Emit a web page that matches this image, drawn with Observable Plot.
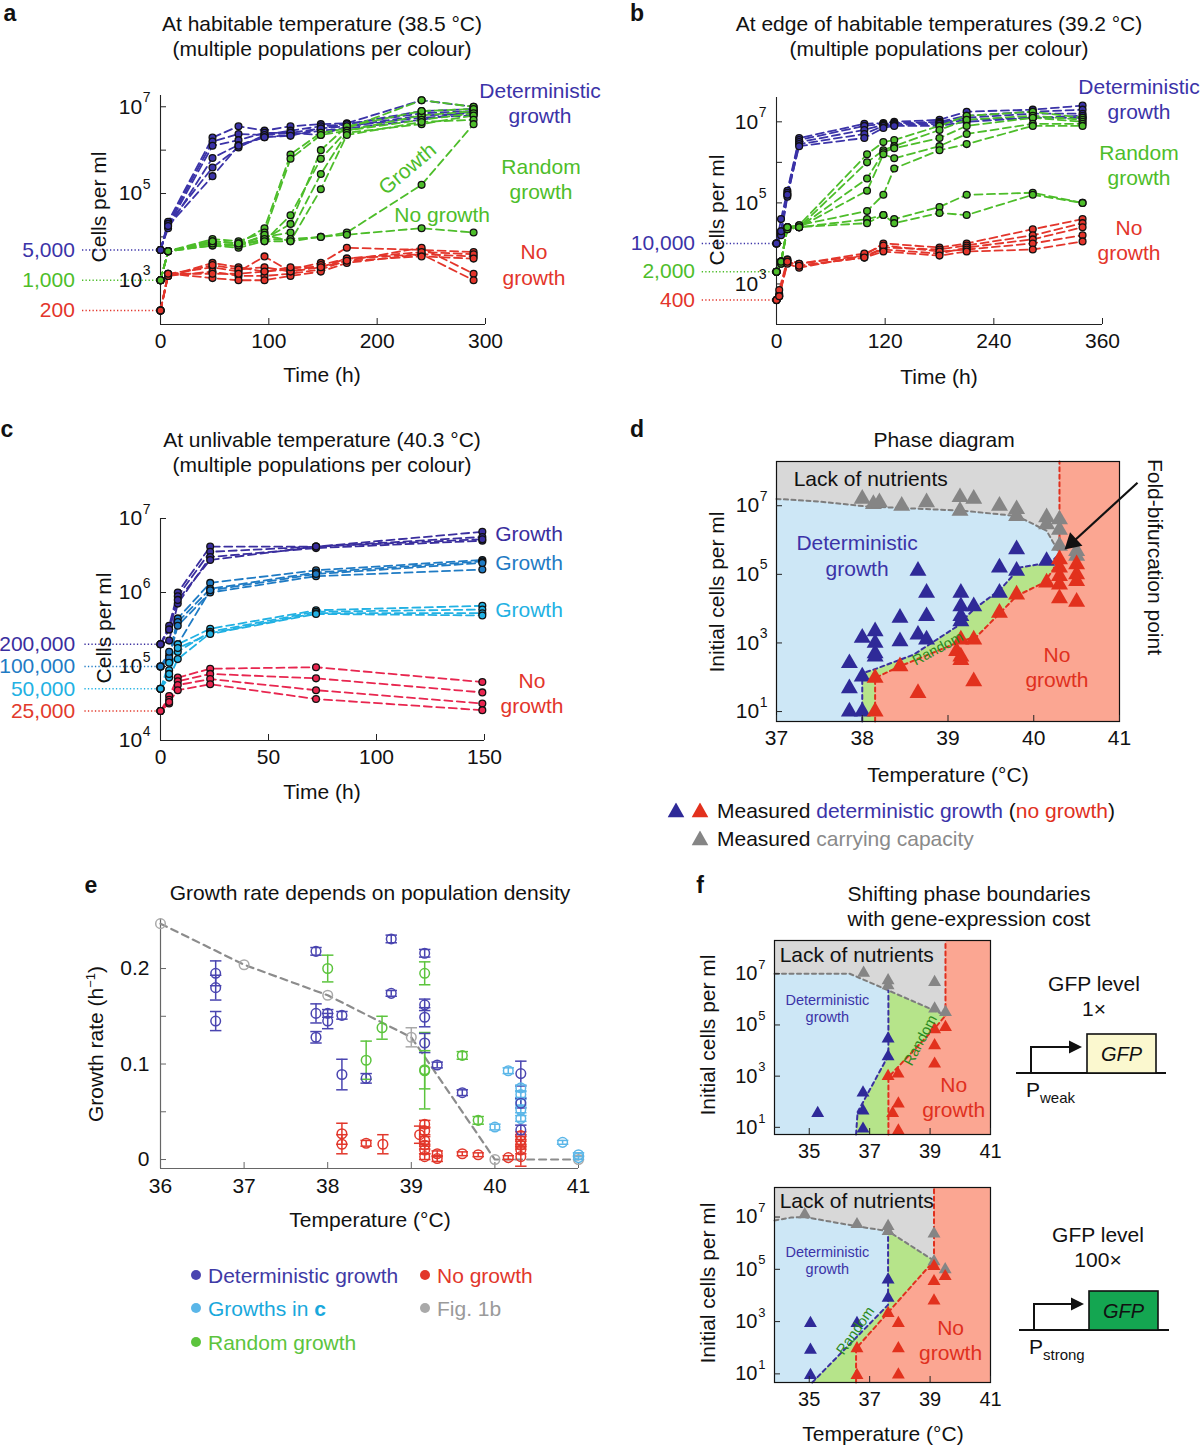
<!DOCTYPE html>
<html>
<head>
<meta charset="utf-8">
<script src="https://cdn.jsdelivr.net/npm/d3@7"></script>
<script src="https://cdn.jsdelivr.net/npm/@observablehq/plot@0.6"></script>
<style>
  body { margin: 0; background: #fff; }
  #fig { position: relative; width: 1200px; height: 1445px; overflow: hidden; background: #fff;
         font-family: "Liberation Sans", Arial, Helvetica, sans-serif; color: #111; }
  .t { position: absolute; white-space: nowrap; line-height: 1; }
</style>
</head>
<body>
<div id="fig"></div>
<script>
// ===================== Data =====================

// (a) 38.5 °C time courses; log10(cells per ml) after the starting density
const aTimes = [0, 7, 48, 72, 96, 120, 148, 172, 241, 289];
const aLevels = [
  {label: "5,000", cells: 5000, color: "#3b33a8"},
  {label: "1,000", cells: 1000, color: "#4dbd2a"},
  {label: "200", cells: 200, color: "#e3352b"}
];
const aDeterministicLog = [
  [4.35, 6.29, 6.55, 6.45, 6.55, 6.6, 6.62, 7.15, 7.0],
  [4.3, 6.2, 6.37, 6.35, 6.45, 6.55, 6.6, 6.9, 6.95],
  [4.25, 6.1, 6.23, 6.4, 6.4, 6.5, 6.55, 6.8, 6.85],
  [4.2, 5.82, 6.12, 6.3, 6.35, 6.45, 6.5, 6.7, 6.9],
  [4.3, 5.6, 6.06, 6.35, 6.4, 6.35, 6.55, 6.75, 6.8],
  [4.25, 5.4, 6.1, 6.3, 6.33, 6.5, 6.6, 6.85, 6.9]
];
const aRandomLog = [
  [3.67, 3.9, 3.85, 4.2, 5.9, 6.4, 6.5, 7.15, 7.0],
  [3.67, 3.95, 3.9, 4.1, 5.8, 6.35, 6.45, 6.8, 6.9],
  [3.67, 3.85, 3.8, 3.95, 4.3, 6.0, 6.55, 6.9, 6.95],
  [3.67, 3.8, 3.75, 3.9, 4.5, 5.8, 6.45, 6.7, 6.85],
  [3.67, 3.9, 3.85, 4.0, 4.1, 5.45, 6.4, 6.6, 6.8],
  [3.67, 3.8, 3.8, 4.05, 3.9, 5.1, 6.35, 6.65, 6.7],
  [3.67, 3.85, 3.8, 3.95, 3.95, 4.0, 4.1, 5.2, 6.6],
  [3.67, 3.9, 3.85, 3.9, 3.9, 4.0, 4.05, 4.2, 4.1]
];
const aNoGrowthLog = [
  [3.1, 3.4, 3.3, 3.2, 3.25, 3.4, 3.75, 3.7, 3.65],
  [3.15, 3.3, 3.2, 3.55, 3.2, 3.3, 3.5, 3.6, 3.55],
  [3.1, 3.2, 3.1, 3.1, 3.15, 3.25, 3.45, 3.75, 3.15],
  [3.15, 3.05, 3.0, 3.0, 3.1, 3.2, 3.4, 3.6, 3.0],
  [3.1, 3.35, 3.25, 3.3, 3.2, 3.35, 3.5, 3.65, 3.6],
  [3.15, 3.15, 3.15, 3.2, 3.3, 3.3, 3.45, 3.55, 3.5]
];

// (b) 39.2 °C time courses
const bDeterministicTimes = [0, 5, 12, 25, 97, 118, 130, 180, 210, 283, 338];
const bRandomTimes = [0, 5, 12, 25, 100, 118, 130, 180, 210, 283, 338];
const bNoGrowthTimes = [0, 3, 12, 25, 97, 118, 180, 210, 283, 338];
const bLevels = [
  {label: "10,000", cells: 10000, color: "#3b33a8"},
  {label: "2,000", cells: 2000, color: "#4dbd2a"},
  {label: "400", cells: 400, color: "#e3352b"}
];
const bDeterministicLog = [
  [4.6, 5.3, 6.6, 6.95, 6.97, 7.0, 7.05, 7.25, 7.3, 7.4],
  [4.3, 5.25, 6.55, 6.9, 6.95, 6.97, 7.0, 7.15, 7.25, 7.3],
  [4.25, 5.2, 6.5, 6.8, 6.93, 6.95, 6.98, 7.1, 7.2, 7.2],
  [4.2, 5.15, 6.45, 6.7, 6.9, 6.92, 6.95, 7.05, 7.1, 7.15],
  [4.3, 5.2, 6.4, 6.6, 6.85, 6.9, 6.9, 7.0, 7.1, 7.1]
];
const bRandomLog = [
  [3.55, 4.4, 4.45, 6.2, 6.5, 6.55, 6.9, 7.15, 7.25, 7.1],
  [3.55, 4.4, 4.4, 6.0, 6.3, 6.4, 6.8, 7.05, 7.15, 7.05],
  [3.55, 4.35, 4.4, 5.6, 6.25, 6.35, 6.6, 6.9, 7.1, 7.0],
  [3.5, 4.4, 4.4, 5.3, 6.2, 6.1, 6.4, 6.7, 6.95, 6.95],
  [3.55, 4.4, 4.45, 4.8, 5.2, 5.85, 6.3, 6.45, 6.9, 6.9],
  [3.5, 4.35, 4.4, 4.6, 4.7, 4.6, 4.9, 5.2, 5.25, 5.0],
  [3.55, 4.4, 4.4, 4.5, 4.7, 4.5, 4.75, 4.7, 5.2, 5.0]
];
const bNoGrowthLog = [
  [2.7, 3.6, 3.5, 3.7, 4.0, 3.9, 4.0, 4.35, 4.6],
  [2.75, 3.55, 3.45, 3.65, 3.9, 3.85, 3.95, 4.2, 4.5],
  [2.7, 3.5, 3.4, 3.7, 3.85, 3.75, 3.9, 4.1, 4.4],
  [2.85, 3.6, 3.5, 3.75, 3.95, 3.8, 3.85, 4.0, 4.2],
  [2.7, 3.55, 3.45, 3.65, 3.8, 3.7, 3.8, 3.85, 4.05]
];

// (c) 40.3 °C time courses
const cTimes = [0, 4, 8, 23, 72, 149];
const cLevels = [
  {label: "200,000", cells: 200000, color: "#3a2e9e"},
  {label: "100,000", cells: 100000, color: "#1f7bc4"},
  {label: "50,000", cells: 50000, color: "#22b1e3"},
  {label: "25,000", cells: 25000, color: "#e23a2c"}
];
const c200kLog = [
  [5.55, 6.0, 6.62, 6.62, 6.82],
  [5.5, 5.95, 6.55, 6.62, 6.75],
  [5.35, 5.85, 6.48, 6.6, 6.7],
  [5.5, 5.9, 6.44, 6.62, 6.72]
];
const c100kLog = [
  [5.15, 5.65, 6.13, 6.3, 6.44],
  [5.1, 5.6, 6.05, 6.27, 6.42],
  [5.12, 5.55, 6.0, 6.22, 6.31],
  [5.2, 5.3, 6.03, 6.25, 6.4]
];
const c50kLog = [
  [5.05, 5.3, 5.51, 5.76, 5.82],
  [4.95, 5.2, 5.47, 5.74, 5.77],
  [4.85, 5.1, 5.45, 5.72, 5.72],
  [4.9, 5.25, 5.44, 5.71, 5.69]
];
const c25kLog = [
  [4.6, 4.85, 4.97, 4.99, 4.79],
  [4.55, 4.8, 4.9, 4.84, 4.65],
  [4.5, 4.75, 4.83, 4.68, 4.5],
  [4.52, 4.68, 4.76, 4.56, 4.41]
];

// (d) phase diagram: [temperature °C, log10 initial cells per ml]
const dDeterministic = [[37.85,2.41],[37.85,1.68],[37.85,1.0],[38.0,3.15],[38.0,2.02],[38.0,1.0],[38.15,3.34],[38.15,3.0],[38.15,2.7],[38.15,2.6],[38.44,3.73],[38.44,3.05],[38.65,5.1],[38.65,3.24],[38.75,4.46],[38.75,3.78],[38.75,3.1],[39.15,4.46],[39.15,4.07],[39.15,3.78],[39.15,3.63],[39.3,4.07],[39.6,5.2],[39.6,4.46],[39.8,5.73],[39.8,5.1],[40.15,5.39]];
const dNoGrowth = [[38.15,1.98],[38.15,1.0],[38.44,2.32],[38.65,1.54],[39.15,3.1],[39.1,2.76],[39.15,2.6],[39.15,2.5],[39.3,3.1],[39.3,1.88],[39.6,3.88],[39.8,4.41],[40.15,4.76],[40.3,5.44],[40.3,5.2],[40.3,4.95],[40.3,4.7],[40.3,4.3],[40.5,5.29],[40.5,5.0],[40.5,4.8],[40.5,4.2]];
const dCarrying = [[38.0,7.2],[38.13,7.05],[38.2,7.1],[38.46,7.0],[38.75,7.1],[39.14,7.25],[39.14,6.85],[39.3,7.2],[39.6,7.0],[39.8,6.9],[39.8,6.7],[40.15,6.66],[40.15,6.46],[40.3,6.6],[40.3,6.3],[40.3,5.83],[40.5,5.68],[40.5,5.54]];
const dCarryingBoundary = [[37,7.2],[37.5,7.12],[38.05,6.98],[38.6,6.92],[39.2,6.85],[39.8,6.7],[40.0,6.46],[40.15,6.27],[40.25,5.83],[40.3,5.6]];
const dDeterministicBoundary = [[38.0,0.71],[38.0,2.12],[38.13,2.22],[38.6,2.66],[39.14,3.54],[39.22,3.78],[39.3,3.98],[39.61,4.56],[39.84,5.2],[40.2,5.35],[40.3,5.6]];
const dNoGrowthBoundary = [[38.15,0.71],[38.15,1.98],[38.44,2.32],[39.1,3.0],[39.34,3.2],[39.57,3.78],[39.8,4.37],[40.12,4.76],[40.23,5.15],[40.3,5.6]];

// (e) growth rate: [temperature °C, rate h^-1, error]
const eDeterministic = [[36.66,0.195,0.013],[36.66,0.18,0.013],[36.66,0.145,0.01],[37.86,0.218,0.004],[37.86,0.153,0.01],[37.86,0.128,0.006],[38.0,0.153,0.004],[38.0,0.145,0.008],[38.17,0.151,0.004],[38.17,0.089,0.016],[38.46,0.085,0.005],[38.76,0.231,0.004],[38.76,0.174,0.003],[39.16,0.216,0.004],[39.16,0.162,0.006],[39.16,0.149,0.01],[39.16,0.122,0.01],[39.31,0.099,0.003],[39.61,0.07,0.003],[40.31,0.09,0.013],[40.31,0.059,0.005],[40.31,0.031,0.005]];
const eRandom = [[38.0,0.2,0.014],[38.46,0.104,0.02],[38.65,0.138,0.012],[39.16,0.195,0.012],[39.16,0.093,0.04],[39.16,0.094,0.02],[39.61,0.109,0.004],[39.8,0.041,0.004]];
const eNoGrowth = [[38.17,0.027,0.011],[38.17,0.016,0.01],[38.46,0.017,0.003],[38.66,0.016,0.01],[39.1,0.026,0.009],[39.16,0.037,0.004],[39.16,0.03,0.004],[39.16,0.02,0.004],[39.16,0.015,0.004],[39.16,0.01,0.004],[39.16,0.003,0.003],[39.31,0.006,0.003],[39.31,0.001,0.003],[39.61,0.006,0.002],[39.8,0.005,0.002],[40.16,0.002,0.002],[40.31,0.025,0.004],[40.31,0.02,0.004],[40.31,0.015,0.004],[40.31,0.01,0.004],[40.31,0.003,0.01]];
const eGrowthsC = [[40.16,0.093,0.003],[40.0,0.034,0.003],[40.31,0.075,0.003],[40.31,0.068,0.003],[40.31,0.06,0.003],[40.31,0.052,0.003],[40.31,0.043,0.003],[40.81,0.018,0.002],[41.0,0.005,0.002],[41.0,0.002,0.002]];
const eFig1b = [[36,0.247,0],[37,0.204,0],[38,0.172,0],[39,0.128,0.01],[40,0,0],[41,0,0]];

// (f) phase diagrams with GFP expression cost
const fWeakDeterministic = [[35.28,1.55],[36.78,2.35],[36.78,1.65],[36.78,0.94],[37.61,4.46],[37.61,3.77]];
const fWeakNoGrowth = [[37.61,3.0],[37.94,3.09],[37.76,1.55],[37.95,1.92],[37.95,0.87],[39.15,4.82],[39.15,4.2],[39.15,3.48],[39.51,4.91]];
const fWeakCarrying = [[36.8,7.03],[37.61,6.74],[37.61,6.54],[39.15,6.67],[39.15,5.63],[39.51,5.5]];
const fWeakCarryingBoundary = [[33.85,7.0],[36.34,7.0],[37.62,6.35],[39.13,5.57],[39.51,5.37]];
const fWeakDeterministicBoundary = [[36.55,0.72],[36.6,1.59],[37.62,3.81],[37.62,6.35]];
const fWeakNoGrowthBoundary = [[37.62,0.72],[37.62,2.96],[39.18,4.91],[39.51,5.37]];

const fStrongDeterministic = [[35.04,2.94],[35.04,1.91],[35.04,0.95],[36.58,2.94],[37.61,4.6],[37.61,3.9]];
const fStrongNoGrowth = [[37.61,3.32],[36.58,1.97],[36.58,0.95],[37.95,2.94],[37.95,1.97],[37.95,0.97],[39.13,5.12],[39.13,4.54],[39.13,3.8],[39.5,4.73]];
const fStrongCarrying = [[34.85,7.1],[36.58,6.72],[37.61,6.65],[37.61,6.46],[39.13,6.36],[39.13,5.3],[39.5,4.99]];
const fStrongCarryingBoundary = [[33.85,6.87],[34.4,6.98],[34.85,7.0],[36.55,6.65],[37.61,6.46],[39.13,5.33]];
const fStrongDeterministicBoundary = [[35.1,0.67],[37.61,3.64],[37.61,6.46]];
const fStrongNoGrowthBoundary = [[36.55,0.67],[36.55,1.97],[39.13,5.33]];

// ===================== Styling =====================
const FONT = '"Liberation Sans", Arial, Helvetica, sans-serif';
const FS = 21;   // main text size
const BLUE = "#3b33a8", GREEN = "#4dbd2a", RED = "#e3352b";
const TRI_BLUE = "#2f2a98", TRI_RED = "#e2311d", TRI_GRAY = "#858585";
const REGION = {deterministic: "#cde7f6", carrying: "#d8d8d8", random: "#b6e48a", none: "#fba692"};
const fig = document.getElementById("fig");

function label(html, x, y, o = {}) {
  const {size = FS, color = "#111", anchor = "middle", rotate = 0, weight = "normal", italic = false} = o;
  const el = document.createElement("div");
  el.className = "t";
  el.innerHTML = html;
  const tx = anchor === "middle" ? "-50%" : anchor === "end" ? "-100%" : "0%";
  el.style.left = x + "px";
  el.style.top = y + "px";
  el.style.fontSize = size + "px";
  el.style.color = color;
  el.style.fontWeight = weight;
  if (italic) el.style.fontStyle = "italic";
  el.style.transform = `translate(${tx}, -50%) rotate(${rotate}deg)`;
  fig.appendChild(el);
}

function panel(area, frame, options) {
  const svg = Plot.plot({
    width: area.right - area.left,
    height: area.bottom - area.top,
    marginLeft: frame.left - area.left,
    marginRight: area.right - frame.right,
    marginTop: frame.top - area.top,
    marginBottom: area.bottom - frame.bottom,
    style: {background: "transparent", overflow: "visible", fontFamily: FONT, fontSize: FS + "px", color: "#111", maxWidth: "none"},
    color: {type: "identity"},
    ...options
  });
  svg.style.position = "absolute";
  svg.style.left = area.left + "px";
  svg.style.top = area.top + "px";
  fig.appendChild(svg);
}

// "10" with a raised exponent, placed left of the frame
function powerLabels(exps, {dx = -10, size = FS} = {}) {
  return [
    Plot.text(exps, {y: e => 10 ** e, frameAnchor: "left", text: () => "10", textAnchor: "end", dx: dx - size * 0.4, fontSize: size}),
    Plot.text(exps, {y: e => 10 ** e, frameAnchor: "left", text: e => String(e), textAnchor: "end", dx, dy: -size * 0.45, fontSize: Math.round(size * 0.66)})
  ];
}

// inward ticks plus outside labels
function axesMarks({xTicks, xLabels = xTicks, yTicks, tickFont = FS, xPad = 9, tickColor = "#222"}) {
  return [
    Plot.axisX({ticks: xTicks, tickSize: 6, dy: -6, tickFormat: () => "", label: null, stroke: tickColor}),
    Plot.axisX({ticks: xLabels, tickSize: 0, tickPadding: xPad, label: null, fontSize: tickFont, tickFormat: d => String(d)}),
    Plot.axisY({ticks: yTicks, tickSize: 6, dx: 6, tickFormat: () => "", label: null, stroke: tickColor})
  ];
}

function trajectories(group, times, start, logs, color) {
  const rows = [];
  logs.forEach((vals, i) => {
    const id = `${group}-${i}`;
    rows.push({id, t: times[0], cells: start, color});
    vals.forEach((v, j) => rows.push({id, t: times[j + 1], cells: 10 ** v, color}));
  });
  return rows;
}

function timeCourse({area, frame, xDomain, yExp, rows, levels, levelX, xTicks, yTickExps, yLabelExps, notes = []}) {
  const yDomain = [10 ** yExp[0], 10 ** yExp[1]];
  panel(area, frame, {
    x: {domain: xDomain},
    y: {type: "log", domain: yDomain},
    marks: [
      Plot.ruleY(levels, {y: "cells", x1: levelX[0], x2: xDomain[0], stroke: "color", strokeWidth: 1.5, strokeDasharray: "1.3,2.2"}),
      Plot.text(levels, {y: "cells", x: levelX[1], text: "label", fill: "color", textAnchor: "end", fontSize: FS}),
      Plot.ruleX([xDomain[0]], {stroke: "#222", strokeWidth: 1.1}),
      Plot.ruleY([yDomain[0]], {stroke: "#222", strokeWidth: 1.1}),
      ...axesMarks({xTicks, yTicks: yTickExps.map(e => 10 ** e)}),
      ...powerLabels(yLabelExps),
      Plot.line(rows, {x: "t", y: "cells", z: "id", stroke: "color", strokeWidth: 1.8, strokeDasharray: "8,4.5"}),
      Plot.dot(rows, {x: "t", y: "cells", fill: "color", stroke: "#111", strokeWidth: 1.3, r: 3.4}),
      ...notes
    ]
  });
}

// ===================== (a) =====================
label("a", 10, 13, {size: 23, weight: "bold"});
label("At habitable temperature (38.5 °C)", 322, 23);
label("(multiple populations per colour)", 322, 48);
timeCourse({
  area: {left: 0, top: 60, right: 600, bottom: 370},
  frame: {left: 160, right: 485, top: 95, bottom: 324},
  xDomain: [0, 300], yExp: [1.98, 7.26],
  rows: [
    ...trajectories("det", aTimes, aLevels[0].cells, aDeterministicLog, BLUE),
    ...trajectories("rnd", aTimes, aLevels[1].cells, aRandomLog, GREEN),
    ...trajectories("no", aTimes, aLevels[2].cells, aNoGrowthLog, RED)
  ],
  levels: aLevels, levelX: [-72, -79],
  xTicks: [0, 100, 200, 300], yTickExps: [3, 4, 5, 6, 7], yLabelExps: [3, 5, 7],
  notes: [
    Plot.text([{t: 228, cells: 3.7e5, text: "Growth"}], {x: "t", y: "cells", text: "text", rotate: -40, fill: GREEN, fontSize: FS}),
    Plot.text([{t: 260, cells: 3.1e4, text: "No growth"}], {x: "t", y: "cells", text: "text", fill: GREEN, fontSize: FS})
  ]
});
label("Time (h)", 322, 374);
label("Cells per ml", 98, 207, {rotate: -90});
label("Deterministic", 540, 90, {color: BLUE});
label("growth", 540, 115, {color: BLUE});
label("Random", 541, 166, {color: GREEN});
label("growth", 541, 191, {color: GREEN});
label("No", 534, 251, {color: RED});
label("growth", 534, 277, {color: RED});

// ===================== (b) =====================
label("b", 637, 13, {size: 23, weight: "bold"});
label("At edge of habitable temperatures (39.2 °C)", 939, 23);
label("(multiple populations per colour)", 939, 48);
timeCourse({
  area: {left: 620, top: 60, right: 1200, bottom: 370},
  frame: {left: 776, right: 1102, top: 97, bottom: 324},
  xDomain: [0, 360], yExp: [2.0, 7.6],
  rows: [
    ...trajectories("det", bDeterministicTimes, bLevels[0].cells, bDeterministicLog, BLUE),
    ...trajectories("rnd", bRandomTimes, bLevels[1].cells, bRandomLog, GREEN),
    ...trajectories("no", bNoGrowthTimes, bLevels[2].cells, bNoGrowthLog, RED)
  ],
  levels: bLevels, levelX: [-82, -90],
  xTicks: [0, 120, 240, 360], yTickExps: [3, 4, 5, 6, 7], yLabelExps: [3, 5, 7]
});
label("Time (h)", 939, 376);
label("Cells per ml", 716, 210, {rotate: -90});
label("Deterministic", 1139, 86, {color: BLUE});
label("growth", 1139, 111, {color: BLUE});
label("Random", 1139, 152, {color: GREEN});
label("growth", 1139, 177, {color: GREEN});
label("No", 1129, 227, {color: RED});
label("growth", 1129, 252, {color: RED});

// ===================== (c) =====================
label("c", 7, 429, {size: 23, weight: "bold"});
label("At unlivable temperature (40.3 °C)", 322, 439);
label("(multiple populations per colour)", 322, 464);
timeCourse({
  area: {left: 0, top: 490, right: 600, bottom: 785},
  frame: {left: 160, right: 484, top: 518, bottom: 740},
  xDomain: [0, 150], yExp: [4, 7],
  rows: [
    ...trajectories("p", cTimes, cLevels[0].cells, c200kLog, "#3a2e9e"),
    ...trajectories("m", cTimes, cLevels[1].cells, c100kLog, "#1f7bc4"),
    ...trajectories("l", cTimes, cLevels[2].cells, c50kLog, "#22b1e3"),
    ...trajectories("r", cTimes, cLevels[3].cells, c25kLog, "#e8264f")
  ],
  levels: cLevels, levelX: [-35, -39.5],
  xTicks: [0, 50, 100, 150], yTickExps: [4, 5, 6, 7], yLabelExps: [4, 5, 6, 7]
});
label("Time (h)", 322, 791);
label("Cells per ml", 103, 628, {rotate: -90});
label("Growth", 529, 533, {color: "#3a2e9e"});
label("Growth", 529, 562, {color: "#1f7bc4"});
label("Growth", 529, 609, {color: "#22b1e3"});
label("No", 532, 680, {color: RED});
label("growth", 532, 705, {color: RED});

// ===================== phase diagrams (d, f) =====================
function phaseDiagram({area, frame, xDomain, yExp, carryingBoundary, deterministicBoundary, noGrowthBoundary,
                       deterministic, noGrowth, carrying, xTicks, yLabelExps, tickFont, triR, notes = []}) {
  const [yLo, yHi] = yExp;
  const fold = carryingBoundary[carryingBoundary.length - 1];
  const detTop = deterministicBoundary[deterministicBoundary.length - 1];
  const grayPoly = [[xDomain[0], yHi], [fold[0], yHi], ...carryingBoundary.slice().reverse()];
  const redPoly = [[fold[0], yHi], [xDomain[1], yHi], [xDomain[1], yLo], ...noGrowthBoundary];
  const greenPoly = [...deterministicBoundary, ...carryingBoundary.filter(p => p[0] > detTop[0]), ...noGrowthBoundary.slice().reverse()];
  const P = {x: d => d[0], y: d => 10 ** d[1]};
  const dash = "4,3.5";
  panel(area, frame, {
    x: {domain: xDomain},
    y: {type: "log", domain: [10 ** yLo, 10 ** yHi]},
    marks: [
      Plot.frame({fill: REGION.deterministic, stroke: "none"}),
      Plot.line(grayPoly, {...P, fill: REGION.carrying, stroke: "none"}),
      Plot.line(greenPoly, {...P, fill: REGION.random, stroke: "none"}),
      Plot.line(redPoly, {...P, fill: REGION.none, stroke: "none"}),
      Plot.line(carryingBoundary, {...P, stroke: "#7d7d7d", strokeWidth: 2, strokeDasharray: dash}),
      Plot.line(deterministicBoundary, {...P, stroke: "#3a30a0", strokeWidth: 2, strokeDasharray: dash}),
      Plot.line(noGrowthBoundary, {...P, stroke: "#e0301e", strokeWidth: 2, strokeDasharray: dash}),
      Plot.line([fold, [fold[0], yHi]], {...P, stroke: "#e0301e", strokeWidth: 2, strokeDasharray: dash}),
      Plot.dot(carrying, {...P, symbol: "triangle", r: triR, fill: TRI_GRAY}),
      Plot.dot(deterministic, {...P, symbol: "triangle", r: triR, fill: TRI_BLUE}),
      Plot.dot(noGrowth, {...P, symbol: "triangle", r: triR, fill: TRI_RED}),
      ...notes,
      Plot.frame({stroke: "#111", strokeWidth: 1.2}),
      ...axesMarks({xTicks, yTicks: yLabelExps.map(e => 10 ** e), tickFont, xPad: 9}),
      ...powerLabels(yLabelExps, {dx: -9, size: tickFont})
    ]
  });
}
function note(T, cells, text, color, size, extra = {}) {
  return Plot.text([{T, cells, text}], {x: "T", y: "cells", text: "text", fill: color, fontSize: size, ...extra});
}

// ===================== (d) =====================
label("d", 637, 429, {size: 23, weight: "bold"});
label("Phase diagram", 944, 439);
// pointer to the fold-bifurcation point: shaft plus a filled head
const foldPointer = {T1: 41.21, cells1: 10 ** 7.67, T2: 40.45, cells2: 10 ** 5.93, heading: 227.5};
phaseDiagram({
  area: {left: 620, top: 450, right: 1200, bottom: 765},
  frame: {left: 776, right: 1119, top: 461, bottom: 721},
  xDomain: [37, 41], yExp: [0.71, 8.29],
  carryingBoundary: dCarryingBoundary, deterministicBoundary: dDeterministicBoundary, noGrowthBoundary: dNoGrowthBoundary,
  deterministic: dDeterministic, noGrowth: dNoGrowth, carrying: dCarrying,
  xTicks: [37, 38, 39, 40, 41], yLabelExps: [1, 3, 5, 7], tickFont: FS, triR: 6.3,
  notes: [
    note(37.2, 5.75e7, "Lack of nutrients", "#111", FS, {textAnchor: "start"}),
    note(37.94, 7.8e5, "Deterministic", BLUE, FS),
    note(37.94, 1.45e5, "growth", BLUE, FS),
    note(40.27, 430, "No", "#e0301e", FS),
    note(40.27, 79, "growth", "#e0301e", FS),
    note(38.88, 680, "Random", "#2b8a1c", 14.5, {rotate: -28}),
    Plot.link([foldPointer], {x1: "T1", y1: "cells1", x2: "T2", y2: "cells2", stroke: "#111", strokeWidth: 2.2}),
    Plot.dot([foldPointer], {x: "T2", y: "cells2", symbol: "triangle", r: 6.8, rotate: d => d.heading, fill: "#111"})
  ]
});
label("Temperature (°C)", 948, 774);
label("Initial cells per ml", 716, 592, {rotate: -90});
label("Fold-bifurcation point", 1155, 557, {rotate: 90});

function triSvg(color, w = 17) {
  const h = Math.round(w * 0.87);
  return `<svg width="${w}" height="${h}" style="display:block"><path d="M${w / 2},0 L${w},${h} L0,${h}Z" fill="${color}"/></svg>`;
}
label(triSvg(TRI_BLUE), 676, 810);
label(triSvg(TRI_RED), 700, 810);
label(`Measured <span style="color:${BLUE}">deterministic growth</span> (<span style="color:#e0301e">no growth</span>)`, 717, 810, {anchor: "start"});
label(triSvg(TRI_GRAY), 700, 838);
label(`Measured <span style="color:#8a8a8a">carrying capacity</span>`, 717, 838, {anchor: "start"});

// ===================== (e) =====================
label("e", 91, 885, {size: 23, weight: "bold"});
label("Growth rate depends on population density", 370, 892);
const eGroups = [
  {name: "Fig. 1b", color: "#a9a9a9", data: eFig1b},
  {name: "No growth", color: "#e2372b", data: eNoGrowth},
  {name: "Random growth", color: "#5cc43d", data: eRandom},
  {name: "Growths in c", color: "#5ab6e8", data: eGrowthsC},
  {name: "Deterministic growth", color: "#4a45b0", data: eDeterministic}
];
const eRows = eGroups.flatMap(g => g.data.map(([T, rate, err]) => ({T, rate, err, color: g.color})));
const eBars = eRows.filter(d => d.err > 0);
const capSymbol = {draw(context, size) { const w = Math.sqrt(size) * 0.95; context.moveTo(-w, 0); context.lineTo(w, 0); }};
const eYDomain = [-0.0094, 0.2524];
panel({left: 40, top: 900, right: 600, bottom: 1205}, {left: 160, right: 578, top: 918, bottom: 1168}, {
  x: {domain: [36, 41]},
  y: {domain: eYDomain},
  marks: [
    Plot.ruleX([36], {stroke: "#666", strokeWidth: 1.2}),
    Plot.ruleY([eYDomain[0]], {stroke: "#666", strokeWidth: 1.2}),
    ...axesMarks({xTicks: [36, 37, 38, 39, 40, 41], yTicks: [0, 0.05, 0.1, 0.15, 0.2], xPad: 10, tickColor: "#666"}),
    Plot.axisY({ticks: [0, 0.1, 0.2], tickSize: 0, tickPadding: 11, label: null, fontSize: FS, tickFormat: d => String(d)}),
    Plot.line(eFig1b, {x: d => d[0], y: d => d[1], stroke: "#8c8c8c", strokeWidth: 2.2, strokeDasharray: "7,5"}),
    Plot.ruleX(eBars, {x: "T", y1: d => d.rate - d.err, y2: d => d.rate + d.err, stroke: "color", strokeWidth: 1.5}),
    Plot.dot(eBars, {x: "T", y: d => d.rate - d.err, symbol: capSymbol, r: 3.4, stroke: "color", strokeWidth: 1.5}),
    Plot.dot(eBars, {x: "T", y: d => d.rate + d.err, symbol: capSymbol, r: 3.4, stroke: "color", strokeWidth: 1.5}),
    Plot.dot(eRows, {x: "T", y: "rate", r: 4.8, stroke: "color", fill: "none", strokeWidth: 1.5})
  ]
});
label("Temperature (°C)", 370, 1219);
label("Growth rate (h<sup style='font-size:13px'>−1</sup>)", 95, 1044, {rotate: -90});
function dotSvg(color) { return `<svg width="11" height="11" style="display:block"><circle cx="5.5" cy="5.5" r="5" fill="${color}"/></svg>`; }
const eLegend = [
  {g: "Deterministic growth", x: 196, y: 1275},
  {g: "No growth", x: 425, y: 1275},
  {g: "Growths in c", x: 196, y: 1308},
  {g: "Fig. 1b", x: 425, y: 1308},
  {g: "Random growth", x: 196, y: 1342}
];
eLegend.forEach(({g, x, y}) => {
  const grp = eGroups.find(d => d.name === g);
  label(dotSvg(grp.color), x, y);
  const text = g === "Growths in c" ? "Growths in <b>c</b>" : g;
  const tc = g === "Growths in c" ? "#19a8dc" : g === "Fig. 1b" ? "#9a9a9a" : g === "Deterministic growth" ? "#3f3aa6" : grp.color;
  label(text, x + 12, y, {anchor: "start", color: tc});
});

// ===================== (f) =====================
label("f", 700, 885, {size: 23, weight: "bold"});
label("Shifting phase boundaries", 969, 893);
label("with gene-expression cost", 969, 918);
phaseDiagram({
  area: {left: 690, top: 925, right: 1010, bottom: 1168},
  frame: {left: 774, right: 990, top: 940, bottom: 1134},
  xDomain: [33.85, 41], yExp: [0.72, 8.3],
  carryingBoundary: fWeakCarryingBoundary, deterministicBoundary: fWeakDeterministicBoundary, noGrowthBoundary: fWeakNoGrowthBoundary,
  deterministic: fWeakDeterministic, noGrowth: fWeakNoGrowth, carrying: fWeakCarrying,
  xTicks: [35, 37, 39, 41], yLabelExps: [1, 3, 5, 7], tickFont: 20, triR: 4.8,
  notes: [
    note(34.02, 5.1e7, "Lack of nutrients", "#111", FS, {textAnchor: "start"}),
    note(35.6, 9.1e5, "Deterministic", BLUE, 14.5),
    note(35.6, 1.95e5, "growth", BLUE, 14.5),
    note(39.78, 437, "No", "#e0301e", FS),
    note(39.78, 46, "growth", "#e0301e", FS),
    note(38.68, 2.5e4, "Random", "#2b8a1c", 14.5, {rotate: -62})
  ]
});
phaseDiagram({
  area: {left: 690, top: 1172, right: 1010, bottom: 1415},
  frame: {left: 774, right: 990, top: 1187, bottom: 1382},
  xDomain: [33.85, 41], yExp: [0.67, 8.13],
  carryingBoundary: fStrongCarryingBoundary, deterministicBoundary: fStrongDeterministicBoundary, noGrowthBoundary: fStrongNoGrowthBoundary,
  deterministic: fStrongDeterministic, noGrowth: fStrongNoGrowth, carrying: fStrongCarrying,
  xTicks: [35, 37, 39, 41], yLabelExps: [1, 3, 5, 7], tickFont: 20, triR: 4.8,
  notes: [
    note(34.02, 3.9e7, "Lack of nutrients", "#111", FS, {textAnchor: "start"}),
    note(35.6, 4.4e5, "Deterministic", BLUE, 14.5),
    note(35.6, 9.8e4, "growth", BLUE, 14.5),
    note(39.68, 537, "No", "#e0301e", FS),
    note(39.68, 59, "growth", "#e0301e", FS),
    note(36.53, 447, "Random", "#2b8a1c", 14.5, {rotate: -55})
  ]
});
label("Temperature (°C)", 883, 1433);
label("Initial cells per ml", 707, 1035, {rotate: -90});
label("Initial cells per ml", 707, 1283, {rotate: -90});

// promoter–GFP construct sketches
function construct(left, top, {fill, sub, promoterX, boxX}) {
  const d = document.createElement("div");
  d.style.cssText = `position:absolute;left:${left}px;top:${top}px;`;
  d.innerHTML = `<svg width="175" height="85" style="display:block;overflow:visible;font-family:${FONT.replace(/"/g, "'")}">
    <line x1="6" y1="48" x2="156" y2="48" stroke="#111" stroke-width="2"/>
    <path d="M${promoterX},48 V22 H${boxX - 16}" fill="none" stroke="#111" stroke-width="2"/>
    <path d="M${boxX - 5},22 L${boxX - 18},15.5 L${boxX - 18},28.5 Z" fill="#111"/>
    <rect x="${boxX}" y="9" width="69" height="39" fill="${fill}" stroke="#111" stroke-width="1.6"/>
    <text x="${boxX + 34.5}" y="29" text-anchor="middle" dominant-baseline="central" font-style="italic" font-size="20" fill="#111">GFP</text>
    <text x="${promoterX - 5}" y="72" font-size="21" fill="#111">P<tspan font-size="15" dy="6">${sub}</tspan></text>
  </svg>`;
  fig.appendChild(d);
}
label("GFP level", 1094, 983);
label("1×", 1094, 1008);
construct(1010, 1025, {fill: "#fbf8cf", sub: "weak", promoterX: 21, boxX: 77});
label("GFP level", 1098, 1234);
label("100×", 1098, 1259);
construct(1013, 1282, {fill: "#14a651", sub: "strong", promoterX: 21, boxX: 76});
</script>
</body>
</html>
